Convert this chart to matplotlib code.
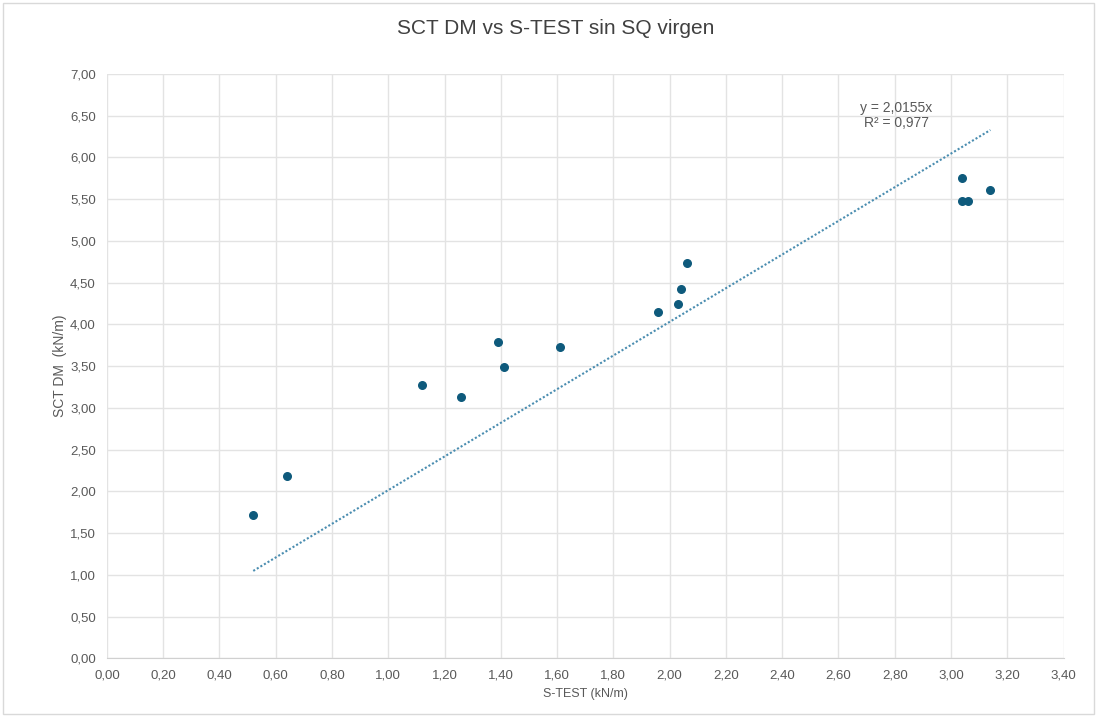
import matplotlib
matplotlib.use("Agg")
import matplotlib.pyplot as plt
import numpy as np
from matplotlib.ticker import MultipleLocator, FuncFormatter
from matplotlib.patches import Rectangle

plt.rcParams['font.family'] = ['Liberation Sans', 'DejaVu Sans']

s_test = [0.52, 0.64, 1.12, 1.26, 1.39, 1.41, 1.61, 1.96, 2.03, 2.04, 2.06, 3.04, 3.04, 3.06, 3.14]
sct_dm = [1.72, 2.18, 3.27, 3.13, 3.79, 3.49, 3.73, 4.15, 4.24, 4.43, 4.74, 5.75, 5.48, 5.48, 5.61]
slope = 2.0155
r2_text = "R² = 0,977"
eq_text = "y = 2,0155x"

title = "SCT DM vs S-TEST sin SQ virgen"
xlabel = "S-TEST (kN/m)"
ylabel = "SCT DM  (kN/m)"

fig = plt.figure(figsize=(10.97, 7.18), dpi=100)
fig.patch.set_facecolor('white')
fig.add_artist(Rectangle((0.003, 0.006), 0.994, 0.99, transform=fig.transFigure,
                         fill=False, edgecolor='#d9d9d9', linewidth=1.0))
ax = fig.add_axes([0.0975, 0.083, 0.872, 0.814])

ax.set_xlim(0, 3.4)
ax.set_ylim(0, 7.0)
ax.xaxis.set_major_locator(MultipleLocator(0.2))
ax.yaxis.set_major_locator(MultipleLocator(0.5))
fmt = FuncFormatter(lambda v, p: f"{v:.2f}".replace('.', ','))
ax.xaxis.set_major_formatter(fmt)
ax.yaxis.set_major_formatter(fmt)
ax.grid(True, color='#e3e3e3', linewidth=1.0)
ax.set_axisbelow(True)
for sp in ['top', 'right', 'left']:
    ax.spines[sp].set_visible(False)
ax.spines['bottom'].set_color('#d0d0d0')
ax.tick_params(axis='both', length=0, labelsize=9.5, labelcolor='#595959')
ax.tick_params(axis='x', pad=8)
ax.tick_params(axis='y', pad=8)

xs = np.array(s_test)
xl = np.array([xs.min(), xs.max()])
ax.plot(xl, slope * xl, linestyle=(0, (1, 1)), color='#4a8db0', linewidth=1.5, zorder=2)
ax.scatter(s_test, sct_dm, s=30, color='#0e5a7c', zorder=3)

ax.text(2.805, 6.33, eq_text + "\n" + r2_text, ha='center', va='bottom', fontsize=10,
        color='#595959', linespacing=1.1)

fig.text(0.507, 0.96, title, ha='center', va='center', fontsize=15, color='#404040')
ax.set_xlabel(xlabel, fontsize=9, color='#595959', labelpad=5)
ax.set_ylabel(ylabel, fontsize=10, color='#595959', labelpad=2)

fig.savefig("out.png", dpi=100)
